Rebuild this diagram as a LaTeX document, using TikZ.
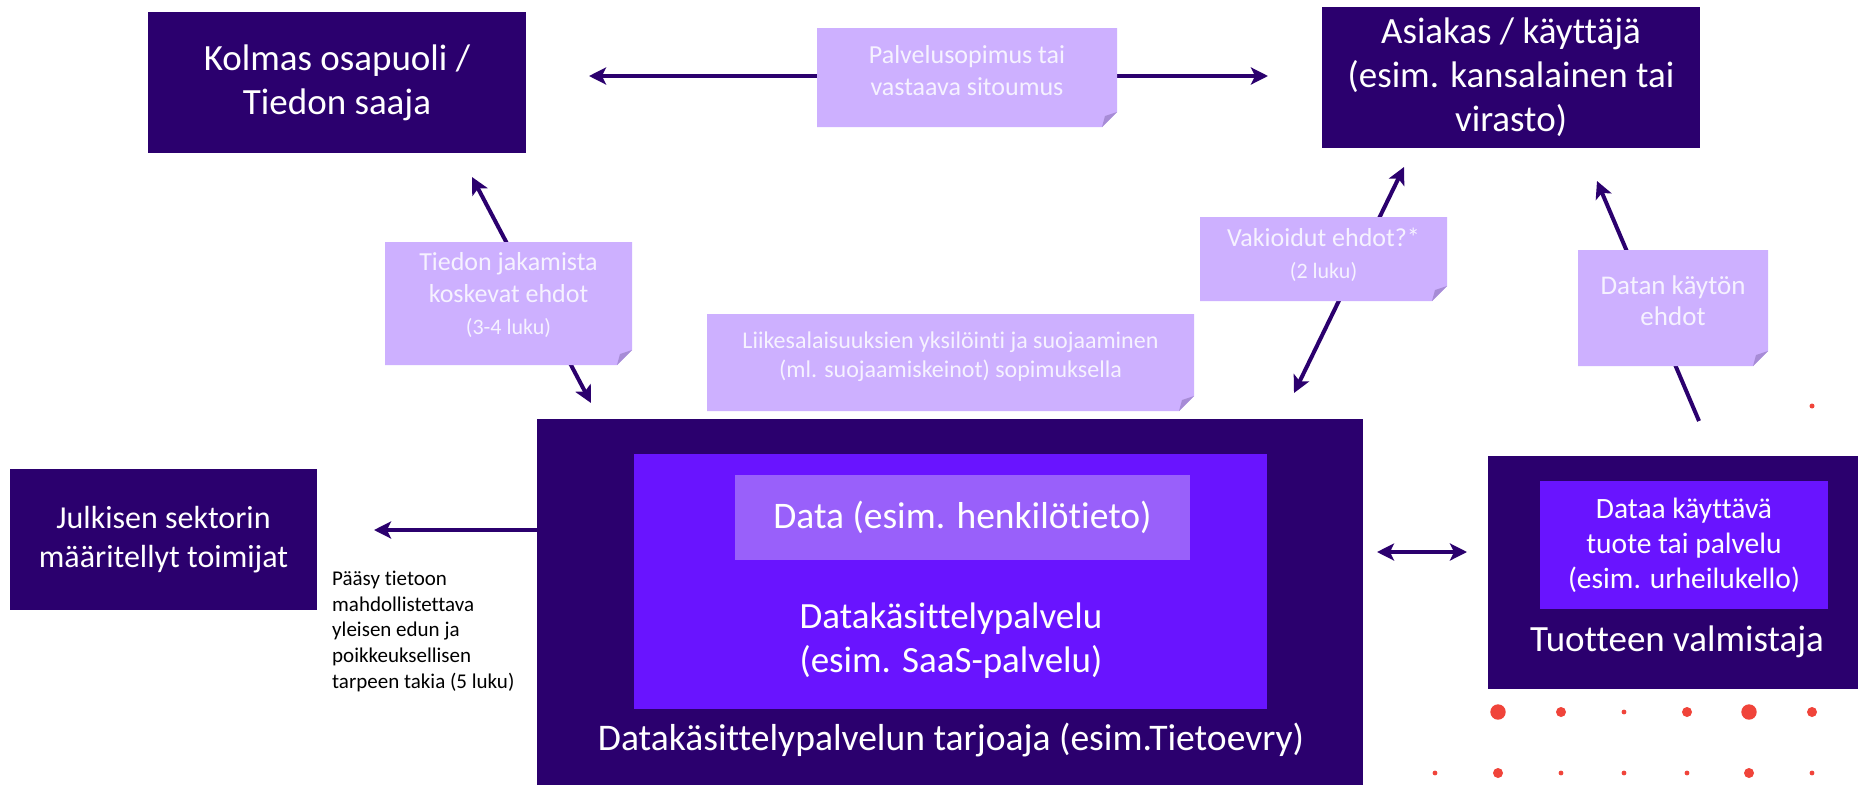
\documentclass[tikz,border=0pt]{standalone}
\usepackage{fontspec}
\setmainfont{Carlito}[Ligatures=NoCommon]
\usetikzlibrary{arrows.meta}
\definecolor{dark}{RGB}{43,0,110}
\definecolor{bright}{RGB}{105,20,255}
\definecolor{datac}{RGB}{153,96,250}
\definecolor{notec}{RGB}{205,176,255}
\definecolor{foldc}{RGB}{167,140,214}
\definecolor{notetxt}{RGB}{246,242,255}
\definecolor{dotc}{RGB}{240,68,58}
\pgfdeclarelayer{bg}
\pgfdeclarelayer{arrows}
\pgfsetlayers{bg,arrows,main}
\newcommand{\bigf}{\fontsize{37}{44}\selectfont}
\newcommand{\notef}{\fontsize{26}{32}\selectfont}
\newcommand{\lukuf}{\fontsize{22}{30}\selectfont}
\begin{document}
\begin{tikzpicture}[x=1pt,y=-1pt,
  box/.style={fill=dark,text=white,inner sep=0pt,align=center,font=\bigf},
  inbox/.style={fill=bright,text=white,inner sep=0pt,align=center},
  notebox/.style={inner sep=0pt,path picture={
    \fill[notec] (path picture bounding box.north west) -- (path picture bounding box.north east)
      -- ([yshift=15pt]path picture bounding box.south east) -- ([xshift=-15pt]path picture bounding box.south east)
      -- (path picture bounding box.south west) -- cycle;
    \fill[foldc] ([yshift=15pt]path picture bounding box.south east) -- ([xshift=-12pt,yshift=11pt]path picture bounding box.south east)
      -- ([xshift=-15pt]path picture bounding box.south east) -- cycle;}},
  notetext/.style={text=notetxt,inner sep=0pt,align=center,font=\notef},
  arr/.style={draw=dark,line width=4pt,-{Stealth[length=17pt,width=17pt,inset=4pt]}},
  arr2/.style={draw=dark,line width=4pt,{Stealth[length=17pt,width=17pt,inset=4pt]}-{Stealth[length=17pt,width=17pt,inset=4pt]}},
  dot/.style={fill=dotc,draw=none}
]
\useasboundingbox (0,0) rectangle (1858,785);
\begin{pgfonlayer}{bg}
\fill[white] (0,0) rectangle (1858,785);
\end{pgfonlayer}

% main boxes
\node[box,minimum width=378pt,minimum height=141pt] (kol) at (337,82.5) {Kolmas osapuoli /\\Tiedon saaja};
\node[box,minimum width=378pt,minimum height=141pt] (asi) at (1511,77.5) {Asiakas / käyttäjä\\(esim. kansalainen tai\\virasto)};
\node[box,minimum width=307pt,minimum height=141pt,font=\fontsize{32}{39}\selectfont] (jul) at (163.5,539.5) {Julkisen sektorin\\määritellyt toimijat};
\node[box,minimum width=826pt,minimum height=366pt] (main) at (950,602) {};
\node[inbox,minimum width=633pt,minimum height=255pt] (inner) at (950.5,581.5) {};
\node[inbox,fill=datac,minimum width=455pt,minimum height=85pt,font=\fontsize{37.5}{44}\selectfont] (data) at (962.5,517.5) {Data (esim. henkilötieto)};
\node[text=white,align=center,inner sep=0pt,font=\bigf] (dkp) at (951,641) {Datakäsittelypalvelu\\(esim. SaaS-palvelu)};
\node[text=white,inner sep=0pt,font=\fontsize{37.6}{44}\selectfont] (tarj) at (951,740) {Datakäsittelypalvelun tarjoaja (esim.Tietoevry)};

\node[box,minimum width=370pt,minimum height=233pt] (tuo) at (1673,572.5) {};
\node[inbox,minimum width=288pt,minimum height=128pt,font=\fontsize{29.5}{35}\selectfont] (tuoin) at (1684,545) {Dataa käyttävä\\tuote tai palvelu\\(esim. urheilukello)};
\node[text=white,inner sep=0pt,font=\bigf] (tuolab) at (1677,642) {Tuotteen valmistaja};

% notes
\node[notebox,minimum width=300pt,minimum height=99pt] (pal) at (967,77.5) {};
\node[notetext] (palT) at (967,71) {Palvelusopimus tai\\vastaava sitoumus};
\node[notebox,minimum width=247pt,minimum height=123pt] (tie) at (508.5,303.5) {};
\node[notetext] (tieT) at (508.5,295) {Tiedon jakamista\\koskevat ehdot\\{\lukuf (3-4 luku)}};
\node[notebox,minimum width=247pt,minimum height=84pt] (vak) at (1323.5,259) {};
\node[notetext] (vakT) at (1323.5,255) {Vakioidut ehdot?*\\{\lukuf (2 luku)}};
\node[notebox,minimum width=487pt,minimum height=97pt] (lii) at (950.5,362.5) {};
\node[notetext,font=\fontsize{24}{29}\selectfont] (liiT) at (950.5,357) {Liikesalaisuuksien yksilöinti ja suojaaminen\\(ml. suojaamiskeinot) sopimuksella};
\node[notebox,minimum width=190pt,minimum height=116pt] (dat) at (1673,308) {};
\node[notetext,font=\fontsize{27}{31}\selectfont] (datT) at (1673,301) {Datan käytön\\ehdot};

% black text
\node[anchor=north west,align=left,inner sep=0pt,font=\fontsize{21}{25.6}\selectfont] (paasy) at (332,571) {Pääsy tietoon\\mahdollistettava\\yleisen edun ja\\poikkeuksellisen\\tarpeen takia (5 luku)};

% connector end points
\coordinate (kolE) at (589,76);
\coordinate (asiW) at (1268,76);
\coordinate (kolS) at (472,177);
\coordinate (mainNW) at (591,403);
\coordinate (asiS) at (1404,167);
\coordinate (mainNE) at (1294,393);
\coordinate (tuoN) at (1699,421);
\coordinate (asiSE) at (1597,181);
\coordinate (mainW) at (537,530);
\coordinate (julE) at (374,530);
\coordinate (mainE) at (1377,552);
\coordinate (tuoW) at (1467,552);

\begin{pgfonlayer}{arrows}
\draw[arr2] (kolE) -- (asiW);
\draw[arr2] (kolS) -- (mainNW);
\draw[arr2] (asiS) -- (mainNE);
\draw[arr] (tuoN) -- (asiSE);
\draw[arr] (mainW) -- (julE);
\draw[arr2] (mainE) -- (tuoW);
\end{pgfonlayer}

% dots
\fill[dot] (1812,406) circle (2.5);
\foreach \x/\r in {1498/7.7,1561/5,1624/2.4,1687/5,1749/7.7,1812/5}
  \fill[dot] (\x,712) circle (\r);
\foreach \x/\r in {1435/2.4,1498/5,1561/2.4,1624/2.4,1687/2.4,1749/5,1812/2.4}
  \fill[dot] (\x,773) circle (\r);
\end{tikzpicture}
\end{document}
